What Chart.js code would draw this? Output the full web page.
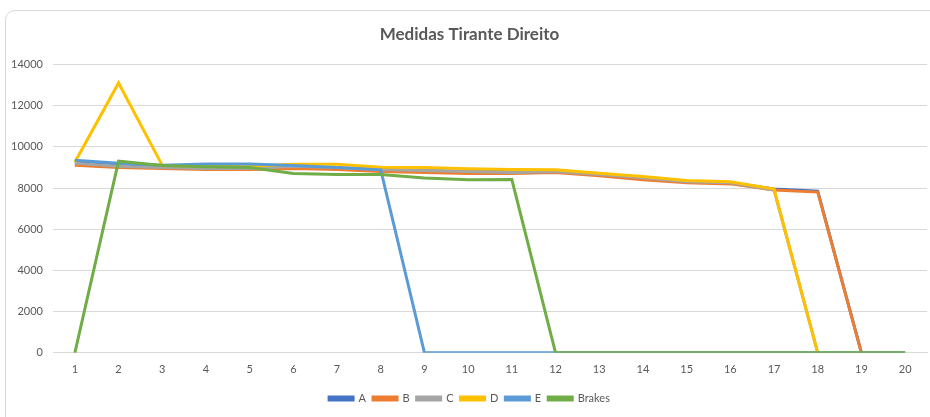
<!DOCTYPE html>
<html>
<head>
<meta charset="utf-8">
<script src="https://cdn.jsdelivr.net/npm/chart.js@4"></script>
<style>
  html, body { margin: 0; padding: 0; background: #ffffff; overflow: hidden; }
  #frame { position: absolute; left: 5px; top: 10px; width: 960px; height: 440px;
           border: 1.5px solid #d9d9d9; border-radius: 10px; box-sizing: border-box; }
  #wrap { position: absolute; left: 0; top: 0; width: 930px; height: 417px; }
</style>
</head>
<body>
<div id="frame"></div>
<div id="wrap"><canvas id="c" width="930" height="417"></canvas></div>
<script>
const categories = ["1","2","3","4","5","6","7","8","9","10","11","12","13","14","15","16","17","18","19","20"];
const seriesA = [9250, 9100, 9000, 9000, 9000, 9000, 8950, 8900, 8850, 8800, 8800, 8800, 8650, 8450, 8300, 8250, 7950, 7850, 0, null];
const seriesB = [9100, 9000, 8950, 8900, 8900, 8950, 8900, 8800, 8750, 8700, 8700, 8750, 8600, 8400, 8250, 8200, 7900, 7800, 0, null];
const seriesC = [9200, 9050, 9000, 8950, 8950, 9050, 9000, 8900, 8850, 8800, 8750, 8800, 8650, 8500, 8300, 8250, 7900, 0, null, null];
const seriesD = [9250, 13100, 9100, 9050, 9050, 9150, 9150, 9010, 9000, 8930, 8900, 8880, 8720, 8560, 8360, 8300, 7950, 0, null, null];
const seriesE = [9350, 9200, 9100, 9170, 9170, 9090, 9000, 8880, 0, 0, 0, 0, 0, 0, 0, 0, 0, 0, 0, 0];
const seriesBrakes = [0, 9300, 9090, 9030, 9000, 8700, 8650, 8650, 8490, 8400, 8410, 0, 0, 0, 0, 0, 0, 0, 0, 0];
const yTicks = [0, 2000, 4000, 6000, 8000, 10000, 12000, 14000];

const names = ["A", "B", "C", "D", "E", "Brakes"];
const colors = ["#4472C4", "#ED7D31", "#A5A5A5", "#FFC000", "#5B9BD5", "#70AD47"];
const values = [seriesA, seriesB, seriesC, seriesD, seriesE, seriesBrakes];

const datasets = names.map((n, i) => ({
  label: n,
  data: values[i],
  borderColor: colors[i],
  backgroundColor: colors[i],
  borderWidth: 3,
  pointRadius: 0,
  pointHoverRadius: 0,
  tension: 0,
  fill: false,
  order: names.length - i
}));

new Chart(document.getElementById('c'), {
  type: 'line',
  data: { labels: categories, datasets: datasets },
  options: {
    responsive: false,
    animation: false,
    layout: { padding: { left: 12, right: 3, top: 24, bottom: 3 } },
    plugins: {
      title: {
        display: true,
        text: 'Medidas Tirante Direito',
        color: '#595959',
        font: { family: 'Lato', size: 17, weight: 'bold' },
        padding: { top: 0, bottom: 20 }
      },
      legend: {
        position: 'bottom',
        labels: {
          color: '#595959',
          font: { family: 'Lato', size: 11 },
          boxWidth: 24,
          boxHeight: 3,
          padding: 7,
          sort: (a, b) => a.datasetIndex - b.datasetIndex
        }
      },
      tooltip: { enabled: false }
    },
    scales: {
      x: {
        offset: true,
        grid: { display: false, drawTicks: false },
        border: { display: true, color: '#d9d9d9', width: 1 },
        ticks: { color: '#595959', font: { family: 'Lato', size: 11 }, padding: 10, maxRotation: 0, autoSkip: false }
      },
      y: {
        min: 0,
        max: 14000,
        afterBuildTicks: (axis) => { axis.ticks = yTicks.map(v => ({ value: v })); },
        afterFit: (axis) => { axis.width = 41; },
        grid: { color: '#d9d9d9', lineWidth: 1, drawTicks: false },
        border: { display: false },
        ticks: { color: '#595959', font: { family: 'Lato', size: 11 }, padding: 10, callback: (v) => String(v) }
      }
    }
  }
});
</script>
</body>
</html>
